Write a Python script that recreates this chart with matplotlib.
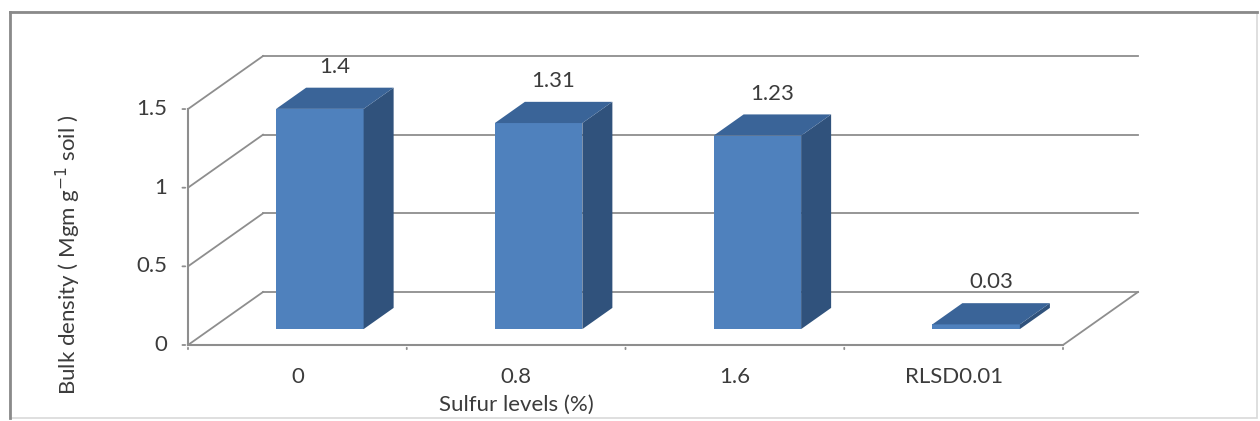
import matplotlib
matplotlib.use('Agg')
import matplotlib.pyplot as plt
from matplotlib.patches import Polygon, Rectangle

plt.rcParams['font.family'] = ['Lato', 'DejaVu Sans']

# bulk density for each sulfur level
levels = ['0', '0.8', '1.6', 'RLSD0.01']
density = [1.4, 1.31, 1.23, 0.03]
y_ticks = [0, 0.5, 1, 1.5]
y_tick_labels = ['0', '0.5', '1', '1.5']

W, H = 1260, 421
fig = plt.figure(figsize=(W / 100, H / 100), dpi=100)
ax = fig.add_axes([0, 0, 1, 1])

# pixel layout of the front plane: origin and scale
x0_px, y0_px = 188, 345
cat_px, unit_px = 218.75, 157.3
ax.set_xlim(-x0_px / cat_px, (W - x0_px) / cat_px)
ax.set_ylim(-(H - y0_px) / unit_px, y0_px / unit_px)
ax.axis('off')

# oblique depth vector (data units) for the fake 3-D look
DX, DY = 75 / cat_px, 53 / unit_px
ymax = 1.5
ncat = len(levels)
fs = 16
txt_col = '#3c3c3c'


def proj(x, y, d):
    return (x + d * DX, y + d * DY)


grid_col = '#8e8e8e'
# back wall gridlines + side wall diagonals
for v in y_ticks:
    bx, by = proj(0, v, 1)
    ex, ey = proj(ncat, v, 1)
    ax.plot([bx, ex], [by, ey], color=grid_col, lw=1.3, zorder=1)
    ax.plot([0, bx], [v, by], color=grid_col, lw=1.3, zorder=1)
# floor: front edge (x axis) and right edge
ax.plot([0, ncat], [0, 0], color=grid_col, lw=1.5, zorder=1)
rx, ry = proj(ncat, 0, 1)
ax.plot([ncat, rx], [0, ry], color=grid_col, lw=1.3, zorder=1)
# vertical axis
ax.plot([0, 0], [0, ymax], color=grid_col, lw=1.5, zorder=1)

# ticks
for v, lab in zip(y_ticks, y_tick_labels):
    ax.annotate('', xy=(0, v), xytext=(-6, 0), textcoords='offset points',
                arrowprops=dict(arrowstyle='-', color=grid_col, lw=1.3))
    ax.annotate(lab, xy=(0, v), xytext=(-15, 0), textcoords='offset points',
                ha='right', va='center', fontsize=fs, color=txt_col)
for i in range(ncat + 1):
    ax.annotate('', xy=(i, 0), xytext=(0, -5), textcoords='offset points',
                arrowprops=dict(arrowstyle='-', color=grid_col, lw=1.3))
for i, lab in enumerate(levels):
    ax.annotate(lab, xy=(i + 0.5, 0), xytext=(0, -23), textcoords='offset points',
                ha='center', va='center', fontsize=fs, color=txt_col)

# bars
front_col, top_col, side_col = '#4f81bd', '#3a6498', '#30527c'
d0, d1 = 0.3, 0.7
for i, v in enumerate(density):
    xa, xb = i + 0.3, i + 0.7
    front = [proj(xa, 0, d0), proj(xb, 0, d0), proj(xb, v, d0), proj(xa, v, d0)]
    top = [proj(xa, v, d0), proj(xb, v, d0), proj(xb, v, d1), proj(xa, v, d1)]
    side = [proj(xb, 0, d0), proj(xb, 0, d1), proj(xb, v, d1), proj(xb, v, d0)]
    z = 3 + i
    ax.add_patch(Polygon(front, closed=True, fc=front_col, ec='none', zorder=z))
    ax.add_patch(Polygon(side, closed=True, fc=side_col, ec='none', zorder=z))
    ax.add_patch(Polygon(top, closed=True, fc=top_col, ec='none', zorder=z))
    lx, _ = proj(i + 0.5, v, 0.5)
    _, ly = proj(i + 0.5, v, d1)
    ax.annotate(f'{v:g}', xy=(lx, ly), xytext=(0, 15), textcoords='offset points',
                ha='center', va='center', fontsize=fs, color=txt_col, zorder=10)

ax.text(1.5, -60 / unit_px, 'Sulfur levels (%)', ha='center', va='center',
        fontsize=fs, color=txt_col)
ax.text(-120 / cat_px, 90 / unit_px, 'Bulk density ( Mgm g$^{-1}$ soil )',
        rotation=90, ha='center', va='center', fontsize=fs, color=txt_col)

# chart frame
fig.patches.append(Rectangle((10 / W, 3 / H), 1247 / W, 406 / H,
                             transform=fig.transFigure, fill=False,
                             ec='#d9d9d9', lw=1.2))
fig.add_artist(plt.Line2D([10 / W, 10 / W], [3 / H, 409 / H],
                          transform=fig.transFigure, color='#8a8a8a', lw=2))
fig.add_artist(plt.Line2D([10 / W, 1257 / W], [409 / H, 409 / H],
                          transform=fig.transFigure, color='#8a8a8a', lw=2))

fig.savefig('out.png', dpi=100)
